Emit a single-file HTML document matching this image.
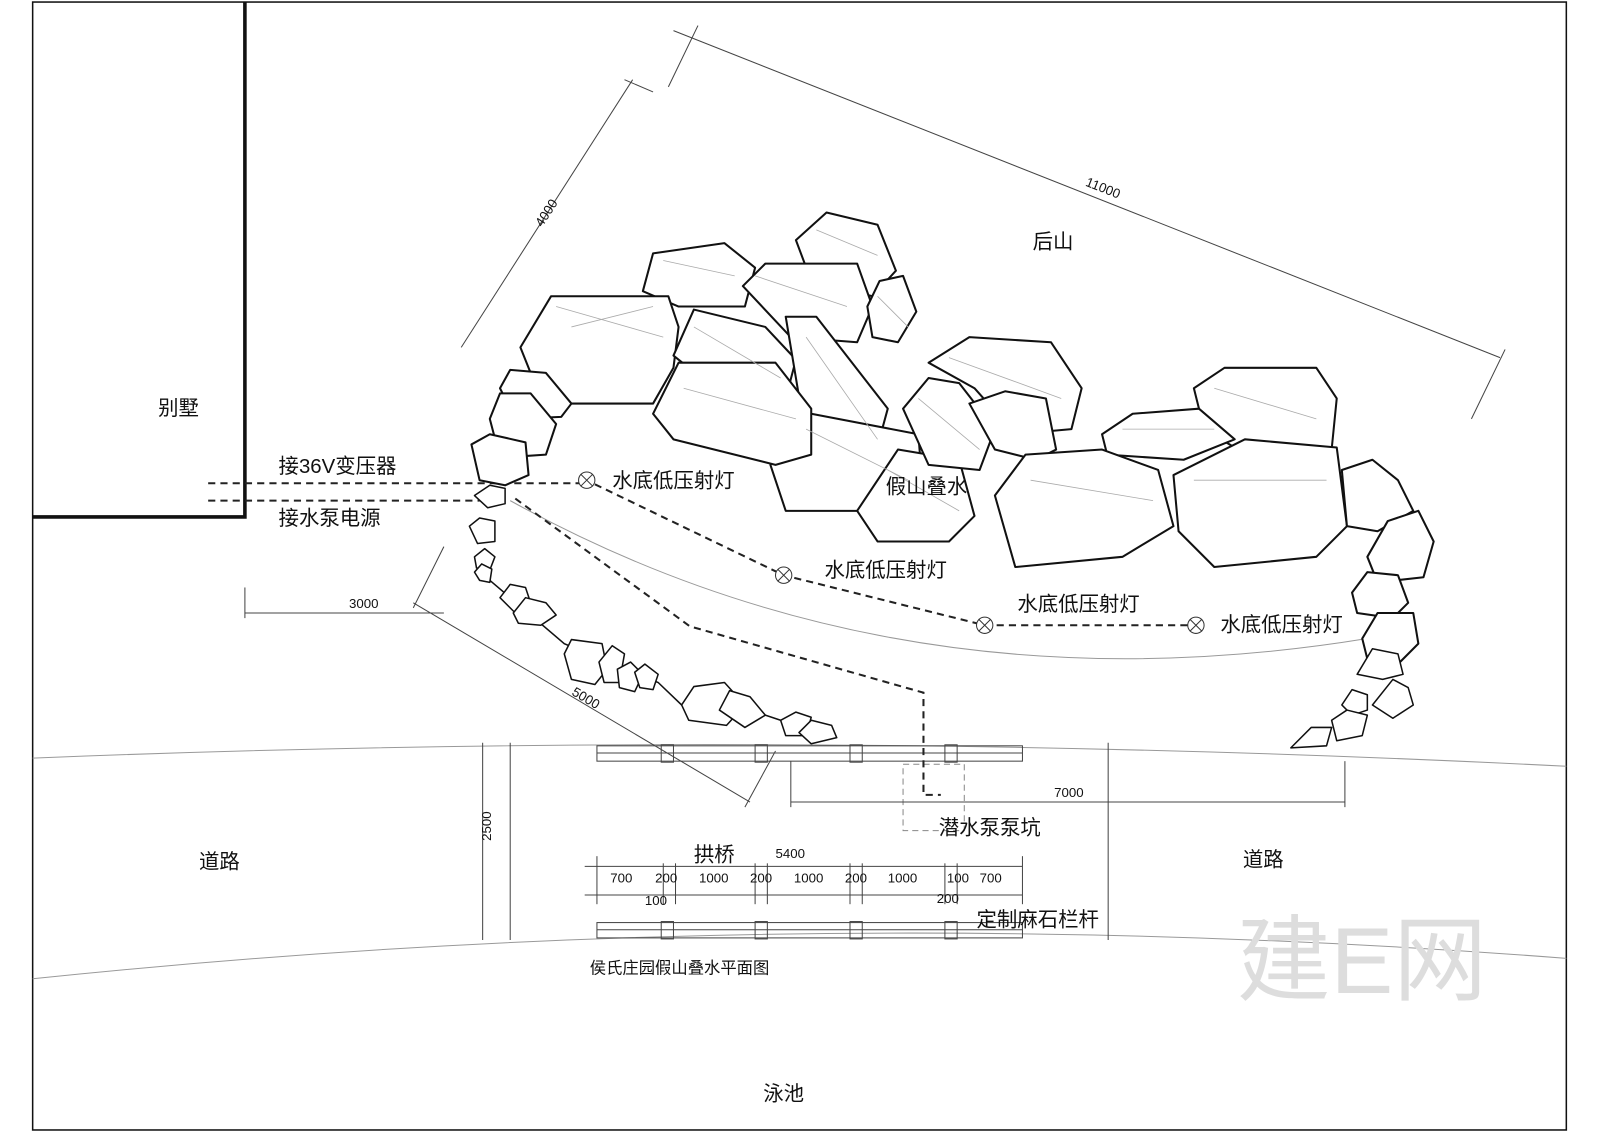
<!DOCTYPE html>
<html><head><meta charset="utf-8"><style>
html,body{margin:0;padding:0;background:#fff;}
svg{display:block;}
text{font-family:"Liberation Sans","Noto Sans CJK SC",sans-serif;fill:#111;}
.r{fill:#fff;stroke:#111;stroke-width:2;stroke-linejoin:round;}
.s{fill:#fff;stroke:#111;stroke-width:1.5;stroke-linejoin:round;}
.d{fill:none;stroke:#222;stroke-width:2;stroke-dasharray:7 5;}
.t{fill:none;stroke:#444;stroke-width:1;}
.g{fill:none;stroke:#999;stroke-width:1;}
.dim{font-size:13px;fill:#333;}
.lb{font-size:20px;}
</style></head><body>
<svg width="1600" height="1131" viewBox="0 0 1568 1107" preserveAspectRatio="none" xmlns="http://www.w3.org/2000/svg">
<rect x="0" y="0" width="1568" height="1107" fill="#fff"/>
<rect x="32" y="2" width="1503" height="1104" fill="none" stroke="#111" stroke-width="1.5"/>
<polyline points="240,2 240,506 32,506" fill="none" stroke="#111" stroke-width="3.5"/>
<path d="M32,742 Q780,712 1535,750" class="g" stroke="#888"/>
<path d="M32,958 Q780,880 1535,938" class="g" stroke="#888"/>
<path d="M500,490 Q880,700 1340,625" class="g"/>
<line x1="473" y1="727" x2="473" y2="920" class="t"/>
<line x1="500" y1="727" x2="500" y2="920" class="t"/>
<line x1="1086" y1="727" x2="1086" y2="920" class="t"/>
<rect x="585" y="730" width="417" height="15" class="t"/>
<line x1="585" y1="737" x2="1002" y2="737" class="t"/>
<rect x="585" y="903" width="417" height="15" class="t"/>
<line x1="585" y1="910" x2="1002" y2="910" class="t"/>
<g class="t"><rect x="648" y="729" width="12" height="17"/><rect x="740" y="729" width="12" height="17"/><rect x="833" y="729" width="12" height="17"/><rect x="926" y="729" width="12" height="17"/>
<rect x="648" y="902" width="12" height="17"/><rect x="740" y="902" width="12" height="17"/><rect x="833" y="902" width="12" height="17"/><rect x="926" y="902" width="12" height="17"/></g>
<rect x="885" y="748" width="60" height="65" fill="none" stroke="#888" stroke-dasharray="6 4"/>
<g class="t">
<line x1="660" y1="30" x2="1470" y2="350"/><line x1="684" y1="25" x2="655" y2="85"/><line x1="1475" y1="342" x2="1442" y2="410"/>
<line x1="620" y1="78" x2="452" y2="340"/><line x1="612" y1="78" x2="640" y2="90"/>
<line x1="240" y1="600" x2="435" y2="600"/><line x1="240" y1="575" x2="240" y2="605"/><line x1="435" y1="535" x2="405" y2="595"/>
<line x1="405" y1="590" x2="735" y2="785"/><line x1="760" y1="735" x2="730" y2="790"/>
<line x1="775" y1="785" x2="1318" y2="785"/><line x1="775" y1="745" x2="775" y2="790"/><line x1="1318" y1="745" x2="1318" y2="790"/>
<line x1="573" y1="848" x2="1002" y2="848"/><line x1="573" y1="876" x2="1002" y2="876"/>
<line x1="585" y1="838" x2="585" y2="885"/><line x1="1002" y1="838" x2="1002" y2="885"/>
<line x1="650" y1="845" x2="650" y2="885"/><line x1="662" y1="845" x2="662" y2="885"/><line x1="740" y1="845" x2="740" y2="885"/><line x1="752" y1="845" x2="752" y2="885"/><line x1="833" y1="845" x2="833" y2="885"/><line x1="845" y1="845" x2="845" y2="885"/><line x1="926" y1="845" x2="926" y2="885"/><line x1="938" y1="845" x2="938" y2="885"/>
</g>
<g class="dim">
<text x="1063" y="188" transform="rotate(21.6 1080 185)">11000</text>
<text x="520" y="218" transform="rotate(-57 530 210)">4000</text>
<text x="342" y="595">3000</text>
<text x="560" y="688" transform="rotate(30.6 575 683)">5000</text>
<text x="1033" y="780">7000</text>
<text x="470" y="838" transform="rotate(-90 468 825)">2500</text>
<text x="760" y="840">5400</text>
<text x="598" y="864">700</text><text x="642" y="864">200</text><text x="685" y="864">1000</text><text x="735" y="864">200</text><text x="778" y="864">1000</text><text x="828" y="864">200</text><text x="870" y="864">1000</text><text x="928" y="864">100</text><text x="960" y="864">700</text>
<text x="632" y="886">100</text><text x="918" y="884">200</text>
</g>
<line x1="204" y1="473" x2="570" y2="473" class="d"/>
<line x1="204" y1="490" x2="470" y2="490" class="d"/>
<polyline points="505,488 676,613 905,678 905,778 922,778" class="d"/>
<polyline points="583,474 768,563 965,612 1170,612" class="d"/>
<g fill="#fff" stroke="#333" stroke-width="1">
<circle cx="575" cy="470" r="8"/><circle cx="768" cy="563" r="8"/><circle cx="965" cy="612" r="8"/><circle cx="1172" cy="612" r="8"/>
<path d="M569,464l12,12M581,464l-12,12M762,557l12,12M774,557l-12,12M959,606l12,12M971,606l-12,12M1166,606l12,12M1178,606l-12,12"/>
</g>
<polyline points="480,568 553,630 645,668 668,690 750,700 765,705" fill="none" stroke="#111" stroke-width="1.5"/>
<g class="r">
<polygon points="630,285 640,248 710,238 740,262 730,300 665,300"/>
<polygon points="780,235 810,208 860,220 878,265 855,290 795,275"/>
<polygon points="728,280 750,258 840,258 855,300 840,335 775,330"/>
<polygon points="850,300 862,275 885,270 898,305 880,335 855,330"/>
<polygon points="510,340 540,290 655,290 665,320 660,360 640,395 560,395 520,365"/>
<polygon points="660,348 680,303 750,320 780,352 770,390 700,380"/>
<polygon points="770,310 800,310 870,400 855,455 820,460 785,400"/>
<polygon points="755,455 795,405 900,425 905,490 860,500 770,500"/>
<polygon points="840,500 880,440 940,450 955,505 930,530 860,530"/>
<polygon points="640,405 665,355 760,355 795,400 795,445 760,455 660,430"/>
<polygon points="910,355 950,330 1030,335 1060,380 1050,420 995,425 955,380"/>
<polygon points="885,400 910,370 940,375 975,420 960,460 910,455"/>
<polygon points="950,395 985,383 1025,390 1035,440 1015,450 975,440"/>
<polygon points="1170,380 1200,360 1290,360 1310,390 1305,440 1230,450 1180,420"/>
<polygon points="1080,425 1110,405 1175,400 1210,430 1160,450 1085,445"/>
<polygon points="975,485 1005,445 1080,440 1135,460 1150,515 1100,545 995,555"/>
<polygon points="1150,465 1220,430 1310,438 1320,515 1290,545 1190,555 1155,520"/>
<polygon points="1315,460 1345,450 1370,470 1385,500 1350,520 1320,515"/>
<polygon points="1340,545 1360,510 1390,500 1405,530 1395,565 1350,570"/>
<polygon points="1325,580 1340,560 1370,563 1380,590 1365,605 1330,600"/>
<polygon points="1335,625 1350,600 1385,600 1390,630 1370,650 1340,645"/>
<polygon points="490,380 500,362 535,365 560,395 550,408 505,410"/>
<polygon points="480,410 490,385 520,385 545,415 535,445 490,448"/>
<polygon points="462,435 480,425 515,433 518,465 495,475 470,470"/>
</g>
<g class="s">
<polygon points="1330,660 1345,635 1370,640 1375,660 1355,665"/>
<polygon points="1345,690 1365,665 1380,673 1385,690 1365,703"/>
<polygon points="1315,690 1325,675 1340,680 1340,695 1325,700"/>
<polygon points="1305,705 1320,695 1340,700 1335,720 1310,725"/>
<polygon points="1265,732 1285,712 1305,712 1300,730"/>
<polygon points="465,485 480,475 495,478 495,493 478,497"/>
<polygon points="460,515 470,507 485,510 485,530 468,532"/>
<polygon points="465,545 475,537 485,545 480,558 467,556"/>
<polygon points="465,560 472,552 482,557 480,570 470,568"/>
<polygon points="490,585 500,572 515,575 520,590 505,600"/>
<polygon points="503,600 515,585 535,590 545,602 530,612 508,610"/>
<polygon points="553,640 560,626 590,630 595,655 583,670 560,665"/>
<polygon points="587,648 600,632 612,640 607,668 592,668"/>
<polygon points="605,655 618,648 630,660 622,677 607,673"/>
<polygon points="622,658 632,650 645,660 640,675 627,673"/>
<polygon points="668,690 680,672 710,668 730,690 712,710 675,705"/>
<polygon points="705,695 715,676 735,682 750,700 730,712"/>
<polygon points="765,705 780,697 795,702 790,720 770,720"/>
<polygon points="783,717 795,705 815,710 820,722 795,728"/>
</g>
<g stroke="#aaa" stroke-width="0.8" fill="none">
<path d="M545,300 L650,330 M560,320 L640,300 M650,255 L720,270 M740,270 L830,300 M800,225 L860,250 M680,320 L765,370 M790,330 L860,430 M670,380 L780,410 M790,420 L890,470 M930,350 L1040,390 M900,390 L960,440 M1010,470 L1130,490 M1190,380 L1290,410 M1170,470 L1300,470 M1100,420 L1190,420 M870,460 L940,500 M860,290 L890,320"/>
</g>
<text class="lb" x="155" y="406">别墅</text>
<text class="lb" x="1012" y="243">后山</text>
<text class="lb" x="273" y="463">接36V变压器</text>
<text class="lb" x="273" y="514">接水泵电源</text>
<text class="lb" x="600" y="477">水底低压射灯</text>
<text class="lb" x="808" y="565">水底低压射灯</text>
<text class="lb" x="997" y="598">水底低压射灯</text>
<text class="lb" x="1196" y="618">水底低压射灯</text>
<text class="lb" x="868" y="483">假山叠水</text>
<text class="lb" x="920" y="817">潜水泵泵坑</text>
<text class="lb" x="680" y="843">拱桥</text>
<text class="lb" x="195" y="850">道路</text>
<text class="lb" x="1218" y="848">道路</text>
<text class="lb" x="957" y="907">定制麻石栏杆</text>
<text x="578" y="953" font-size="16">侯氏庄园假山叠水平面图</text>
<text class="lb" x="748" y="1077">泳池</text>
<text x="1212" y="972" font-size="92" style="fill:#ddd">建E网</text>
</svg>
</body></html>
